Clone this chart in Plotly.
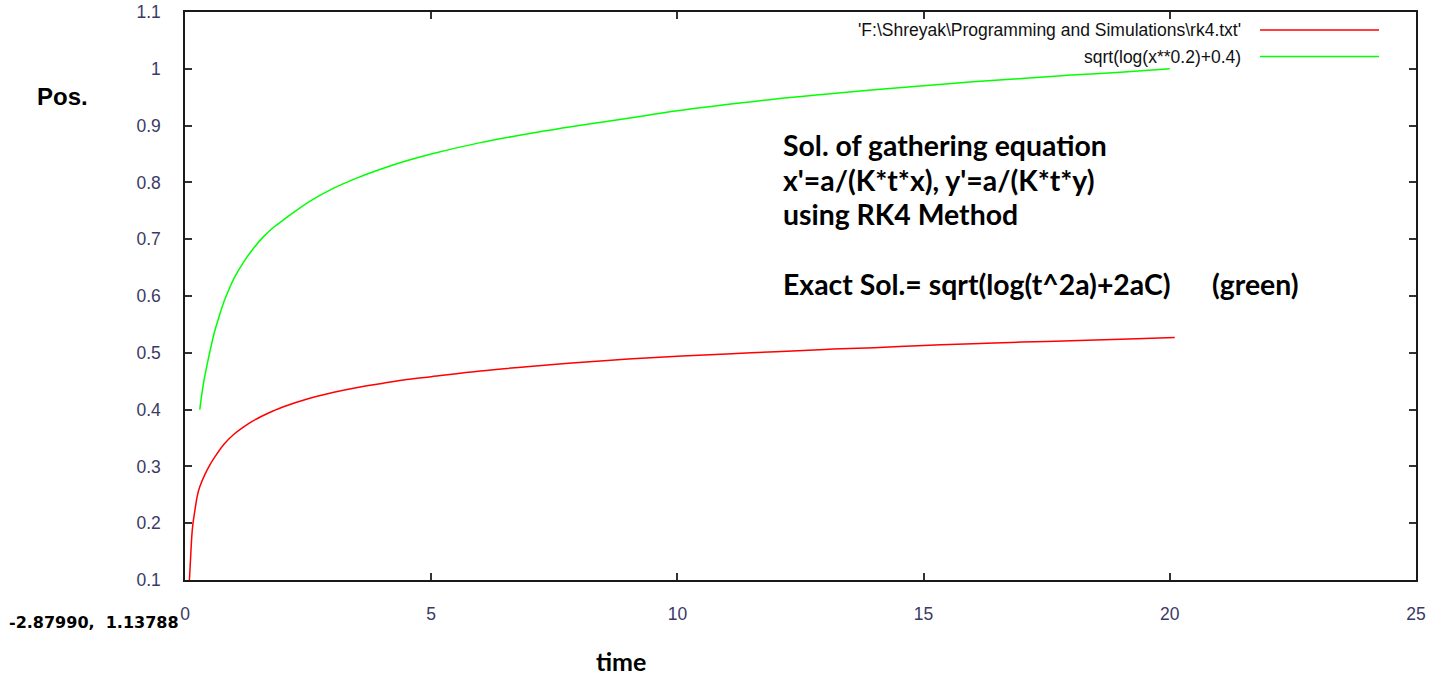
import plotly.graph_objects as go

# RK4 numerical solution (red)
rk4_t = [0.09, 0.12, 0.15, 0.2, 0.25, 0.3, 0.4, 0.5, 0.6, 0.8, 1.0, 1.2, 1.4, 1.6, 1.8,
         2.0, 2.5, 3.0, 3.5, 4.0, 4.5, 5.0, 6.0, 7.0, 8.0, 9.0, 10.0, 11.0, 12.0, 13.0,
         14.0, 15.0, 16.0, 17.0, 18.0, 19.0, 20.1]
rk4_pos = [0.100, 0.150, 0.190, 0.222, 0.248, 0.264, 0.285, 0.302, 0.316, 0.340, 0.357,
           0.370, 0.381, 0.390, 0.398, 0.405, 0.419, 0.430, 0.439, 0.446, 0.453, 0.458,
           0.468, 0.476, 0.483, 0.489, 0.494, 0.498, 0.502, 0.506, 0.509, 0.513, 0.516,
           0.519, 0.521, 0.524, 0.527]

# exact solution curve (green)
exact_t = [0.3, 0.35, 0.4, 0.5, 0.6, 0.7, 0.8, 0.9, 1.0, 1.2, 1.4, 1.6, 1.8, 2.0, 2.5,
           3.0, 3.5, 4.0, 4.5, 5.0, 6.0, 7.0, 8.0, 9.0, 10.0, 11.0, 12.0, 13.0, 14.0,
           15.0, 16.0, 17.0, 18.0, 19.0, 20.0]
exact_pos = [0.400, 0.432, 0.458, 0.500, 0.537, 0.566, 0.592, 0.613, 0.632, 0.661, 0.685,
             0.705, 0.721, 0.734, 0.765, 0.789, 0.808, 0.824, 0.838, 0.850, 0.870, 0.886,
             0.900, 0.913, 0.926, 0.937, 0.947, 0.955, 0.963, 0.970, 0.977, 0.983, 0.989,
             0.994, 1.000]

legend_labels = ["'F:\\Shreyak\\Programming and Simulations\\rk4.txt'", "sqrt(log(x**0.2)+0.4)"]
line_colors = ["#ff0000", "#00ff00"]

x_ticks = [0, 5, 10, 15, 20, 25]
y_ticks = [0.1, 0.2, 0.3, 0.4, 0.5, 0.6, 0.7, 0.8, 0.9, 1.0, 1.1]
y_tick_text = ["0.1", "0.2", "0.3", "0.4", "0.5", "0.6", "0.7", "0.8", "0.9", "1", "1.1"]

note_lines = ["Sol. of gathering equation",
              "x'=a/(K*t*x), y'=a/(K*t*y)",
              "using RK4 Method",
              "Exact Sol.= sqrt(log(t^2a)+2aC)      (green)"]

fig = go.Figure()
fig.add_trace(go.Scatter(x=rk4_t, y=rk4_pos, mode="lines", name=legend_labels[0],
                         line=dict(color=line_colors[0], width=1.5), line_shape="spline"))
fig.add_trace(go.Scatter(x=exact_t, y=exact_pos, mode="lines", name=legend_labels[1],
                         line=dict(color=line_colors[1], width=1.5), line_shape="spline"))

axis_common = dict(showgrid=False, zeroline=False, showline=True, linecolor="#1a1a1a",
                   linewidth=1.5, mirror="ticks", ticks="inside", ticklen=7,
                   tickwidth=1.5, tickcolor="#333333", automargin=False,
                   tickfont=dict(family="Liberation Sans, Arial, sans-serif",
                                 size=17.5, color="#3a3a66"))

fig.update_xaxes(range=[0, 25], tickvals=x_ticks, ticklabelstandoff=17, **axis_common)
fig.update_yaxes(range=[0.1, 1.1], tickvals=y_ticks, ticktext=y_tick_text,
                 ticklabelstandoff=19, **axis_common)

W, H = 1444, 677
L, R, T, B = 185, 28, 12, 97
pw, ph = W - L - R, H - T - B


def px(x):
    return (x - L) / pw


def py(y):
    return (H - B - y) / ph


annotations = []
# legend entries drawn on the right, with line samples after the text
legend_rows = [30, 56.5]
shapes = []
for label, color, row in zip(legend_labels, line_colors, legend_rows):
    annotations.append(dict(x=px(1243), y=py(row), xref="paper", yref="paper",
                            text=label, showarrow=False, xanchor="right", yanchor="middle",
                            font=dict(family="Liberation Sans, Arial, sans-serif",
                                      size=17.5, color="#111111")))
    shapes.append(dict(type="line", xref="paper", yref="paper",
                       x0=px(1260), x1=px(1379), y0=py(row), y1=py(row),
                       line=dict(color=color, width=1.5)))

for text, row in zip(note_lines, [145, 180, 214, 284]):
    annotations.append(dict(x=px(781), y=py(row), xref="paper", yref="paper",
                            text="<b>" + text.replace(" ", "&nbsp;") + "</b>",
                            showarrow=False, xanchor="left", yanchor="middle",
                            font=dict(family="Lato, Open Sans, sans-serif",
                                      size=28.4, color="#000000")))

annotations.append(dict(x=px(62), y=py(97), xref="paper", yref="paper",
                        text="<b>Pos.</b>", showarrow=False, xanchor="center", yanchor="middle",
                        font=dict(family="Liberation Sans, Arial, sans-serif",
                                  size=24, color="#000000")))
annotations.append(dict(x=px(621), y=py(661), xref="paper", yref="paper",
                        text="<b>time</b>", showarrow=False, xanchor="center", yanchor="middle",
                        font=dict(family="Lato, Open Sans, sans-serif",
                                  size=25, color="#000000")))
annotations.append(dict(x=px(181), y=py(622), xref="paper", yref="paper",
                        text="<b>-2.87990,&nbsp;&nbsp;1.13788</b>", showarrow=False,
                        xanchor="right", yanchor="middle",
                        font=dict(family="DejaVu Sans, Verdana, sans-serif",
                                  size=16, color="#000000")))

fig.update_layout(width=W, height=H, margin=dict(l=L, r=R, t=T, b=B),
                  paper_bgcolor="white", plot_bgcolor="white", showlegend=False,
                  annotations=annotations, shapes=shapes)

fig.write_html("out.html")
